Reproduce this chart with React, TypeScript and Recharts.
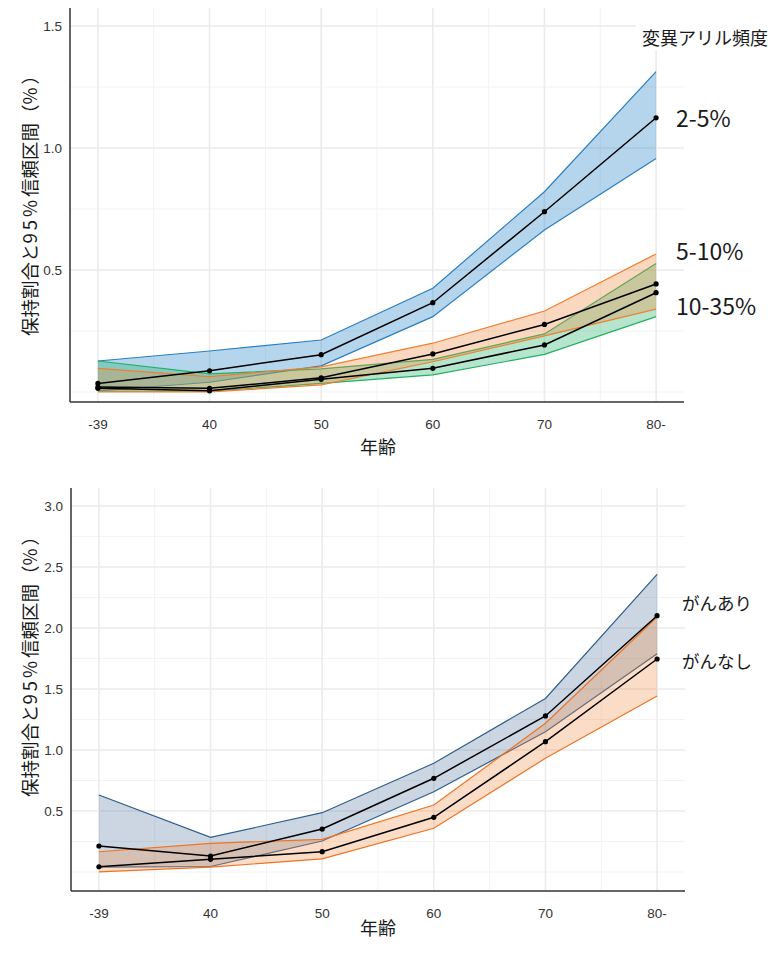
import React from 'react'
import {
  ComposedChart,
  Area,
  Line,
  XAxis,
  YAxis,
  CartesianGrid,
} from 'recharts'

// age groups on the x axis
const ages = ['-39', '40', '50', '60', '70', '80-']
const ageIdx = [0, 1, 2, 3, 4, 5]
const minorX = [0.5, 1.5, 2.5, 3.5, 4.5]

// top: variant allele frequency groups
const topTicks = [0.5, 1.0, 1.5]
const topMinor = [0, 0.25, 0.75, 1.25]
const vaf25Mid = [0.035, 0.087, 0.153, 0.366, 0.739, 1.124]
const vaf25Lo = [0.004, 0.04, 0.107, 0.309, 0.664, 0.957]
const vaf25Hi = [0.127, 0.168, 0.213, 0.425, 0.821, 1.313]
const vaf510Mid = [0.02, 0.015, 0.058, 0.156, 0.277, 0.443]
const vaf510Lo = [0.0, 0.0, 0.029, 0.124, 0.23, 0.34]
const vaf510Hi = [0.097, 0.063, 0.103, 0.2, 0.332, 0.566]
const vaf1035Mid = [0.015, 0.005, 0.052, 0.097, 0.193, 0.407]
const vaf1035Lo = [0.003, 0.003, 0.035, 0.07, 0.154, 0.309]
const vaf1035Hi = [0.127, 0.074, 0.095, 0.134, 0.238, 0.527]

// bottom: with / without cancer
const botTicks = [0.5, 1.0, 1.5, 2.0, 2.5, 3.0]
const botMinor = [0, 0.25, 0.75, 1.25, 1.75, 2.25, 2.75]
const cancerMid = [0.213, 0.131, 0.352, 0.768, 1.279, 2.101]
const cancerLo = [0.04, 0.045, 0.254, 0.658, 1.15, 1.79]
const cancerHi = [0.631, 0.284, 0.486, 0.891, 1.423, 2.44]
const noCancerMid = [0.043, 0.104, 0.166, 0.448, 1.068, 1.746]
const noCancerLo = [0.0, 0.04, 0.107, 0.358, 0.932, 1.443]
const noCancerHi = [0.166, 0.235, 0.268, 0.549, 1.219, 2.09]

const topData = ageIdx.map((x, i) => ({
  x,
  aMid: vaf25Mid[i],
  aBand: [vaf25Lo[i], vaf25Hi[i]],
  bMid: vaf510Mid[i],
  bBand: [vaf510Lo[i], vaf510Hi[i]],
  cMid: vaf1035Mid[i],
  cBand: [vaf1035Lo[i], vaf1035Hi[i]],
}))

const botData = ageIdx.map((x, i) => ({
  x,
  yesMid: cancerMid[i],
  yesBand: [cancerLo[i], cancerHi[i]],
  noMid: noCancerMid[i],
  noBand: [noCancerLo[i], noCancerHi[i]],
}))

const JP = '"Noto Sans CJK JP", "Noto Sans", sans-serif'
const tickStyle = { fill: '#333', fontSize: 13.5, fontFamily: 'Liberation Sans, Arial, sans-serif' }
const axisLine = { stroke: '#333', strokeWidth: 1.5 }
const dot = { r: 2.6, fill: '#000', stroke: 'none' }
const fmtAge = (v: number) => ages[v] ?? ''
const fmtY = (v: number) => v.toFixed(1)

const Txt = ({ x, y, size, children, rotate }: any) => (
  <div
    style={{
      position: 'absolute',
      left: x,
      top: y,
      transform: `translate(-50%, -50%)${rotate ? ' rotate(-90deg)' : ''}`,
      fontFamily: JP,
      fontSize: size,
      color: '#1a1a1a',
      whiteSpace: 'nowrap',
      lineHeight: 1,
    }}
  >
    {children}
  </div>
)

const LeftTxt = ({ x, y, size, children }: any) => (
  <div
    style={{
      position: 'absolute',
      left: x,
      top: y,
      transform: 'translateY(-50%)',
      fontFamily: JP,
      fontSize: size,
      color: '#1a1a1a',
      whiteSpace: 'nowrap',
      lineHeight: 1,
    }}
  >
    {children}
  </div>
)

// y axis title, ascii parts slightly spaced like the original
const wide = { letterSpacing: 3 }
const YTitle = () => (
  <>
    保持割合と<span style={wide}>95%</span>信頼区間（<span style={wide}>%</span>）
  </>
)

export default function App() {
  return (
    <div style={{ position: 'absolute', left: 0, top: 0, width: 780, height: 955, background: '#fff' }}>
      {/* top panel */}
      <div style={{ position: 'absolute', left: 0, top: 0 }}>
        <ComposedChart width={780} height={470} data={topData} margin={{ top: 8, right: 96, left: 0, bottom: 0 }}>
          <CartesianGrid stroke="#f3f3f3" strokeWidth={1} horizontalValues={topMinor} verticalValues={minorX} syncWithTicks />
          <CartesianGrid stroke="#ebebeb" strokeWidth={1.6} syncWithTicks />
          <XAxis
            type="number"
            dataKey="x"
            domain={[-0.25, 5.25]}
            ticks={ageIdx}
            interval={0}
            tickFormatter={fmtAge}
            tick={tickStyle}
            tickLine={false}
            axisLine={axisLine}
            tickMargin={11}
            height={68}
            allowDataOverflow
          />
          <YAxis
            type="number"
            domain={[-0.041, 1.574]}
            ticks={topTicks}
            interval={0}
            tickFormatter={fmtY}
            tick={tickStyle}
            tickLine={false}
            axisLine={axisLine}
            width={70}
            allowDataOverflow
          />
          <Area type="linear" dataKey="aBand" stroke="#2a7fc1" strokeWidth={1.2} fill="#2a88cc" fillOpacity={0.35} dot={false} activeDot={false} isAnimationActive={false} />
          <Area type="linear" dataKey="cBand" stroke="#22b061" strokeWidth={1.2} fill="#2cb670" fillOpacity={0.35} dot={false} activeDot={false} isAnimationActive={false} />
          <Area type="linear" dataKey="bBand" stroke="#f07f30" strokeWidth={1.2} fill="#f08a40" fillOpacity={0.33} dot={false} activeDot={false} isAnimationActive={false} />
          <Line type="linear" dataKey="aMid" stroke="#000" strokeWidth={1.5} dot={dot} activeDot={false} isAnimationActive={false} />
          <Line type="linear" dataKey="bMid" stroke="#000" strokeWidth={1.5} dot={dot} activeDot={false} isAnimationActive={false} />
          <Line type="linear" dataKey="cMid" stroke="#000" strokeWidth={1.5} dot={dot} activeDot={false} isAnimationActive={false} />
        </ComposedChart>
      </div>

      {/* bottom panel */}
      <div style={{ position: 'absolute', left: 0, top: 480 }}>
        <ComposedChart width={780} height={475} data={botData} margin={{ top: 8, right: 95, left: 0, bottom: 0 }}>
          <CartesianGrid stroke="#f3f3f3" strokeWidth={1} horizontalValues={botMinor} verticalValues={minorX} syncWithTicks />
          <CartesianGrid stroke="#ebebeb" strokeWidth={1.6} syncWithTicks />
          <XAxis
            type="number"
            dataKey="x"
            domain={[-0.25, 5.25]}
            ticks={ageIdx}
            interval={0}
            tickFormatter={fmtAge}
            tick={tickStyle}
            tickLine={false}
            axisLine={axisLine}
            tickMargin={11}
            height={64}
            allowDataOverflow
          />
          <YAxis
            type="number"
            domain={[-0.156, 3.148]}
            ticks={botTicks}
            interval={0}
            tickFormatter={fmtY}
            tick={tickStyle}
            tickLine={false}
            axisLine={axisLine}
            width={71}
            allowDataOverflow
          />
          <Area type="linear" dataKey="yesBand" stroke="#2f5d8c" strokeWidth={1.2} fill="#2f5d8c" fillOpacity={0.25} dot={false} activeDot={false} isAnimationActive={false} />
          <Area type="linear" dataKey="noBand" stroke="#ec7524" strokeWidth={1.2} fill="#f28a45" fillOpacity={0.3} dot={false} activeDot={false} isAnimationActive={false} />
          <Line type="linear" dataKey="yesMid" stroke="#000" strokeWidth={1.5} dot={dot} activeDot={false} isAnimationActive={false} />
          <Line type="linear" dataKey="noMid" stroke="#000" strokeWidth={1.5} dot={dot} activeDot={false} isAnimationActive={false} />
        </ComposedChart>
      </div>

      {/* legend title box over the top plot */}
      <div style={{ position: 'absolute', left: 636, top: 8, width: 144, height: 42, background: '#fff' }} />
      <Txt x={705} y={37} size={18}>変異アリル頻度</Txt>
      <LeftTxt x={676} y={117} size={23}>2-5%</LeftTxt>
      <LeftTxt x={676} y={250} size={23}>5-10%</LeftTxt>
      <LeftTxt x={676} y={305} size={23}>10-35%</LeftTxt>
      <LeftTxt x={682} y={603} size={17.5}>がんあり</LeftTxt>
      <LeftTxt x={682} y={661} size={17.5}>がんなし</LeftTxt>

      {/* axis titles */}
      <Txt x={29} y={201} size={18.5} rotate><YTitle /></Txt>
      <Txt x={29} y={662} size={18.5} rotate><YTitle /></Txt>
      <Txt x={378} y={446} size={18}>年齢</Txt>
      <Txt x={378} y={927} size={18}>年齢</Txt>
    </div>
  )
}
